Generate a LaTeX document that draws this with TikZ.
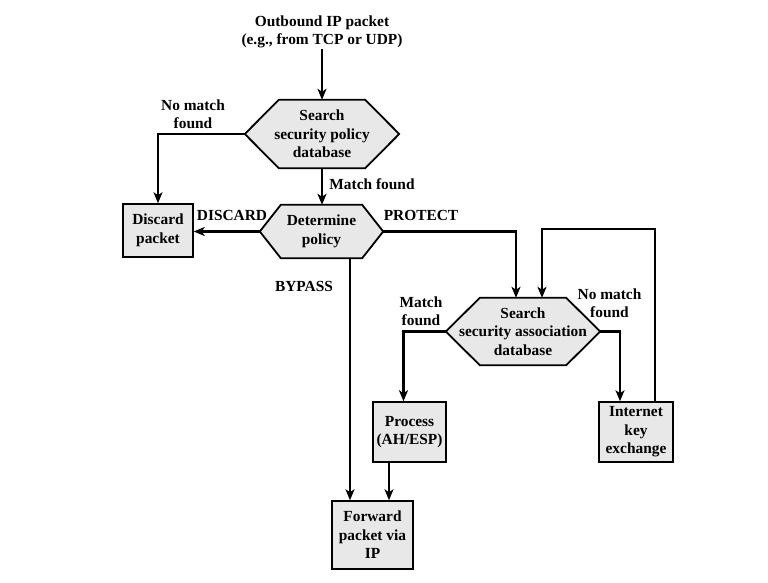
\documentclass[tikz,border=0pt]{standalone}
\usepackage{fontspec}
\setmainfont{Liberation Serif}
\usetikzlibrary{arrows.meta,backgrounds,calc}
\begin{document}
\begin{tikzpicture}[x=1pt,y=-1pt,
  every node/.style={font=\bfseries\fontsize{15.4}{18.5}\selectfont, align=center, inner sep=0pt},
  lbl/.style={},
  boxnode/.style={draw, line width=1.5pt, fill=black!9, minimum width=#1},
  hexnode/.style={minimum width=#1},
  conn/.style={line width=2.2pt},
  arr/.style={conn, -{Stealth[length=11pt,width=9pt,inset=3pt]}},
  hexfill/.style={draw, line width=1.8pt, fill=black!9, line join=miter}]
\useasboundingbox (0,0) rectangle (768,582);
% text source
\node (src) at (322,32) {Outbound IP packet\\(e.g., from TCP or UDP)};
% hexagons as nodes (outline drawn on background)
\node[hexnode=154, minimum height=68] (h1) at (322,134) {Search\\security policy\\database};
\node[hexnode=123, minimum height=53] (h2) at (321.5,231.5) {Determine\\policy};
\node[hexnode=154, minimum height=67] (h3) at (523,331.5) {Search\\security association\\database};
% boxes
\node[boxnode=70, minimum height=53] (disc) at (158,230.5) {Discard\\packet};
\node[boxnode=73, minimum height=60] (proc) at (409.5,432) {Process\\(AH/ESP)};
\node[boxnode=74, minimum height=60] (ike) at (636,432) {Internet\\key\\exchange};
\node[boxnode=81, minimum height=68] (fwd) at (372.5,535) {Forward\\packet via\\IP};
\begin{scope}[on background layer]
  \foreach \h/\d in {h1/34,h2/21,h3/34}{
    \draw[hexfill] (\h.west) -- ([xshift=\d]\h.north west) -- ([xshift=-\d]\h.north east)
      -- (\h.east) -- ([xshift=-\d]\h.south east) -- ([xshift=\d]\h.south west) -- cycle;
  }
\end{scope}
% labels
\node[lbl] (l1) at (193,114) {No match\\found};
\node[lbl] (l2) at (372,184) {Match found};
\node[lbl] (l3) at (232,215) {DISCARD};
\node[lbl] (l4) at (421,215) {PROTECT};
\node[lbl] (l5) at (304,286) {BYPASS};
\node[lbl] (l6) at (421,311) {Match\\found};
\node[lbl] (l7) at (609.5,303) {No match\\found};
% connectors
\coordinate (loopR) at (655,229);
\draw[arr] ([yshift=-1]src.south) -- (h1.north);
\draw[arr] (h1.west) -| (disc.north);
\draw[arr] (h1.south) -- (h1.south |- h2.north);
\draw[arr] (h2.west) -- (h2.west -| disc.east);
\draw[arr] (h2.east) -| ([xshift=-7]h3.north);
\draw[arr] ([xshift=19]ike.north) |- (loopR) -| ([xshift=19]h3.north);
\draw[arr] (h3.west) -| ([xshift=-6]proc.north);
\draw[arr] (h3.east) -| ([xshift=-16]ike.north);
\draw[arr] ([xshift=28.5]h2.south) -- ([xshift=28.5]h2.south |- fwd.north);
\draw[arr] ([xshift=-20.5]proc.south) -- ([xshift=-20.5]proc.south |- fwd.north);
\end{tikzpicture}
\end{document}
